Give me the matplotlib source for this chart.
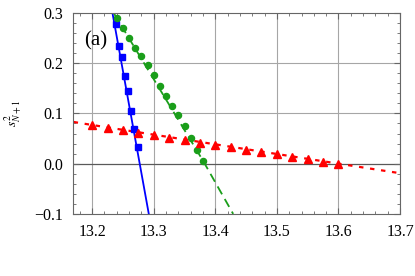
import matplotlib
matplotlib.use("Agg")
import matplotlib.pyplot as plt
from matplotlib.ticker import MultipleLocator
from matplotlib import font_manager

plt.rcParams['font.family'] = 'serif'
plt.rcParams['font.serif'] = ['Liberation Serif', 'Times New Roman', 'DejaVu Serif']
plt.rcParams['mathtext.fontset'] = 'stix'

# Blue squares (solid line)
blue_x = [13.238, 13.244, 13.248, 13.253, 13.258, 13.263, 13.268, 13.274]
blue_y = [0.278, 0.234, 0.213, 0.175, 0.144, 0.105, 0.069, 0.034]
blue_line_x = [13.233, 13.292]
blue_line_y = [0.30, -0.10]

# Green circles (dashed line)
green_x = [13.24, 13.25, 13.26, 13.27, 13.28, 13.29, 13.30, 13.31,
           13.32, 13.33, 13.34, 13.35, 13.36, 13.37, 13.38]
green_y = [0.289, 0.270, 0.250, 0.230, 0.214, 0.196, 0.177, 0.155,
           0.134, 0.115, 0.096, 0.074, 0.052, 0.028, 0.006]
green_line_x = [13.235, 13.38, 13.429]
green_line_y = [0.30, 0.006, -0.10]

# Red triangles (dotted line)
red_x = [13.200, 13.225, 13.250, 13.275, 13.300, 13.325, 13.350, 13.375, 13.400,
         13.425, 13.450, 13.475, 13.500, 13.525, 13.550, 13.575, 13.600]
red_y = [0.077, 0.072, 0.067, 0.062, 0.057, 0.052, 0.047, 0.042, 0.038,
         0.033, 0.028, 0.023, 0.019, 0.014, 0.009, 0.004, 0.000]
red_line_x = [13.17, 13.20, 13.60, 13.70]
red_line_y = [0.083, 0.077, 0.000, -0.019]

xticks = [13.2, 13.3, 13.4, 13.5, 13.6, 13.7]
yticks = [-0.1, 0.0, 0.1, 0.2, 0.3]

fp = font_manager.FontProperties(family='Liberation Serif', size=11.5)

fig = plt.figure(figsize=(4.15, 2.76), dpi=100)
ax = fig.add_axes([0.176, 0.225, 0.788, 0.728])

for xv in xticks:
    ax.axvline(xv, color='0.65', lw=0.8, zorder=0)
for yv in [0.1, 0.2]:
    ax.axhline(yv, color='0.65', lw=0.8, zorder=0)
ax.axhline(0.0, color='0.35', lw=0.9, zorder=0)

ax.plot(blue_line_x, blue_line_y, color='#0000ff', lw=1.3, zorder=2)
ax.plot(blue_x, blue_y, 's', color='#0000ff', ms=4.8, zorder=3)

ax.plot(green_line_x, green_line_y, color='#1a9e1a', lw=1.3, dashes=(5, 3), zorder=2)
ax.plot(green_x, green_y, 'o', color='#1a9e1a', ms=4.4, zorder=3)

ax.plot(red_line_x, red_line_y, color='#ff0000', lw=1.6, dashes=(2, 3), zorder=2)
ax.plot(red_x, red_y, '^', color='#ff0000', ms=5.2, zorder=3)

ax.set_xlim(13.169, 13.7)
ax.set_ylim(-0.1, 0.3)
ax.set_xticks(xticks)
ax.set_yticks(yticks)
ax.set_xticklabels(['13.2', '13.3', '13.4', '13.5', '13.6', '13.7'], fontproperties=fp)
ax.set_yticklabels(['\u22120.1', '0.0', '0.1', '0.2', '0.3'], fontproperties=fp)
ax.xaxis.set_minor_locator(MultipleLocator(0.02))
ax.yaxis.set_minor_locator(MultipleLocator(0.02))
ax.tick_params(which='both', direction='in', top=True, right=True, color='0.4')
ax.tick_params(which='major', length=4, width=0.8, pad=7)
ax.tick_params(which='minor', length=2, width=0.6)
for s in ax.spines.values():
    s.set_color('0.4')
    s.set_linewidth(0.8)

ax.set_ylabel(r'$s^2_{N+1}$', fontsize=10, labelpad=8)
ax.text(0.035, 0.86, '(a)', transform=ax.transAxes, fontsize=15,
        fontfamily='Liberation Serif', ha='left', va='center')

fig.savefig('out.png', dpi=100)
